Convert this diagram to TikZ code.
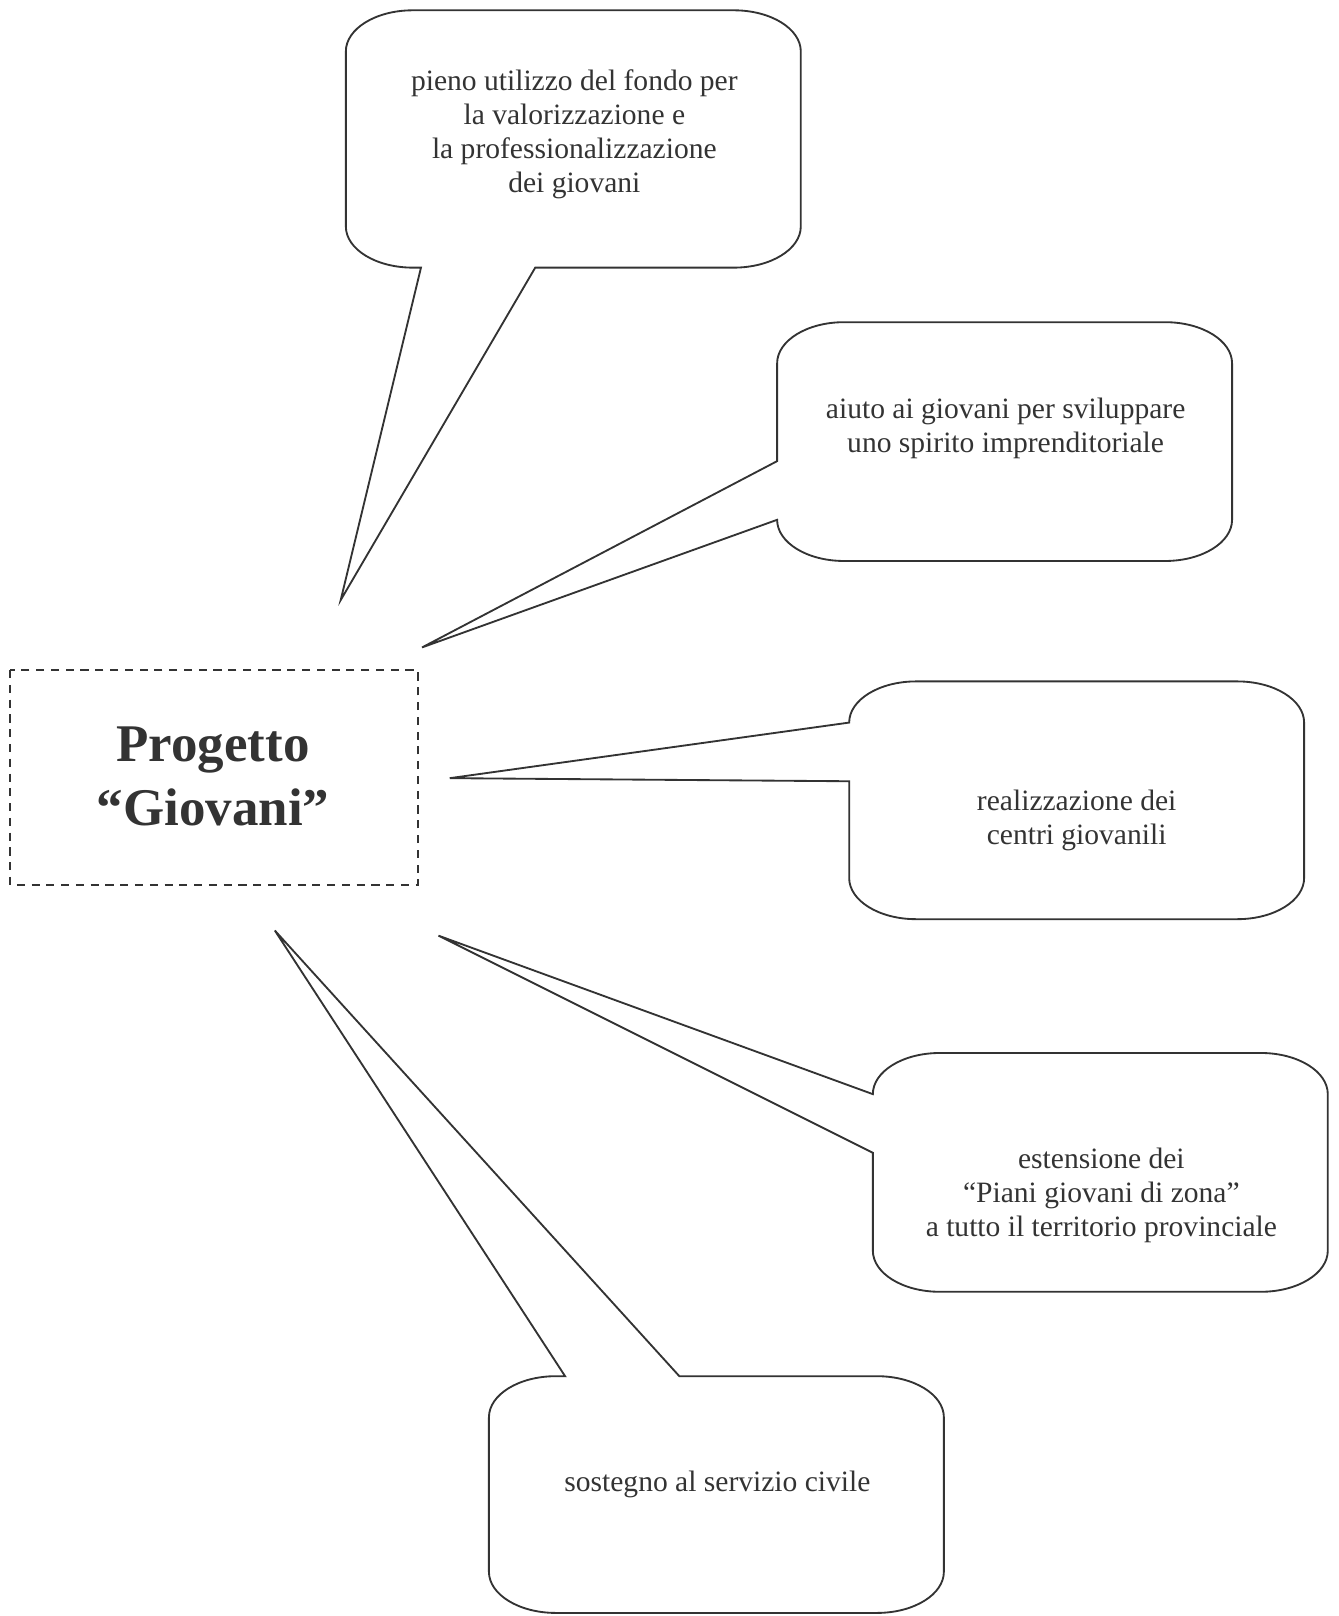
\documentclass[tikz,border=0pt]{standalone}
\usepackage{fontspec}
\setmainfont{Liberation Serif}
\definecolor{ink}{HTML}{333333}
\tikzset{
  bubble/.style={draw=ink, line width=0.75pt, line join=miter},
  txt/.style={text=ink, align=center, inner sep=0pt, font=\fontsize{12}{13.8}\selectfont},
  title/.style={text=ink, align=center, inner sep=0pt, font=\fontsize{21.5}{26}\selectfont\bfseries},
  dashbox/.style={draw=ink, line width=0.75pt, dash pattern=on 3.3pt off 2.7pt}
}
\begin{document}
\begin{tikzpicture}[x=0.418pt, y=-0.418pt]
\useasboundingbox (0,0) rectangle (1300,1570);

% nodes
\node[title] (prog) at (207,754) {Progetto\\``Giovani''};
\draw[dashbox] (10,651) rectangle (406,860);

\coordinate (tipA) at (331,583);
\coordinate (tipB) at (410,629);
\coordinate (tipC) at (437,756);
\coordinate (tipD) at (426,909);
\coordinate (tipE) at (267,904);

% bubbles
\draw[bubble] (409,260) -- (tipA) -- (520,260) -- (713,260)
  .. controls (749,260) and (778,242) .. (778,220) -- (778,50)
  .. controls (778,28) and (749,10) .. (713,10) -- (401,10)
  .. controls (365,10) and (336,28) .. (336,50) -- (336,220)
  .. controls (336,242) and (365,260) .. (401,260) -- cycle;

\draw[bubble] (755,448) -- (tipB) -- (755,505)
  .. controls (755,527) and (784,545) .. (820,545) -- (1132,545)
  .. controls (1168,545) and (1197,527) .. (1197,505) -- (1197,353)
  .. controls (1197,331) and (1168,313) .. (1132,313) -- (820,313)
  .. controls (784,313) and (755,331) .. (755,353) -- cycle;

\draw[bubble] (825,702) -- (tipC) -- (825,759) -- (825,853)
  .. controls (825,875) and (854,893) .. (890,893) -- (1202,893)
  .. controls (1238,893) and (1267,875) .. (1267,853) -- (1267,702)
  .. controls (1267,680) and (1238,662) .. (1202,662) -- (890,662)
  .. controls (854,662) and (825,680) .. (825,702) -- cycle;

\draw[bubble] (848,1063) -- (tipD) -- (848,1120) -- (848,1215)
  .. controls (848,1237) and (877,1255) .. (913,1255) -- (1225,1255)
  .. controls (1261,1255) and (1290,1237) .. (1290,1215) -- (1290,1063)
  .. controls (1290,1041) and (1261,1023) .. (1225,1023) -- (913,1023)
  .. controls (877,1023) and (848,1041) .. (848,1063) -- cycle;

\draw[bubble] (549,1337) -- (tipE) -- (660,1337) -- (852,1337)
  .. controls (888,1337) and (917,1355) .. (917,1377) -- (917,1527)
  .. controls (917,1549) and (888,1567) .. (852,1567) -- (540,1567)
  .. controls (504,1567) and (475,1549) .. (475,1527) -- (475,1377)
  .. controls (475,1355) and (504,1337) .. (540,1337) -- cycle;

% texts
\node[txt] (fondo) at (558,130.5) {pieno utilizzo del fondo per\\la valorizzazione e\\la professionalizzazione\\dei giovani};
\node[txt] (aiuto) at (977,416) {aiuto ai giovani per sviluppare\\uno spirito imprenditoriale};
\node[txt] (centri) at (1046,797) {realizzazione dei\\centri giovanili};
\node[txt] (piani) at (1070,1161) {estensione dei\\``Piani giovani di zona''\\a tutto il territorio provinciale};
\node[txt] (civile) at (697,1442) {sostegno al servizio civile};

\end{tikzpicture}
\end{document}
